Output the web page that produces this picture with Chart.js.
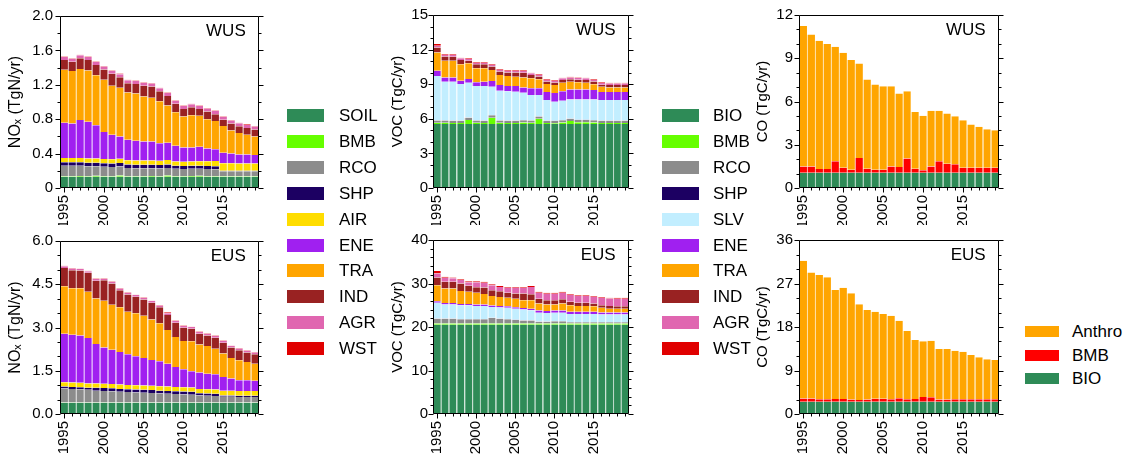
<!DOCTYPE html>
<html>
<head>
<meta charset="utf-8">
<script src="https://cdn.jsdelivr.net/npm/chart.js@4.4.0/dist/chart.umd.min.js"></script>
<style>
  body { margin: 0; background: #fff; width: 1127px; height: 463px; position: relative; overflow: hidden;
         font-family: "Liberation Sans", Arial, sans-serif; }
  canvas { position: absolute; }
  .legend { position: absolute; }
  .legend .row { position: absolute; left: 0; white-space: nowrap; font-size: 17px; color: #000; }
  .legend .box { position: absolute; left: 0; top: 0; }
  .legend .txt { position: absolute; top: 0; }
</style>
</head>
<body>
<script>
const years = [1995, 1996, 1997, 1998, 1999, 2000, 2001, 2002, 2003, 2004, 2005, 2006, 2007,
  2008, 2009, 2010, 2011, 2012, 2013, 2014, 2015, 2016, 2017, 2018, 2019];

// NOx, western US (TgN/yr)
const noxWusSoil = [0.13, 0.13, 0.13, 0.13, 0.13, 0.13, 0.13, 0.13, 0.13, 0.13, 0.13, 0.13, 0.13, 0.13, 0.13, 0.13, 0.13, 0.13, 0.13, 0.13, 0.13, 0.13, 0.13, 0.13, 0.13];
const noxWusBmb = [0.008, 0.008, 0.01, 0.008, 0.012, 0.008, 0.006, 0.015, 0.008, 0.007, 0.007, 0.009, 0.008, 0.014, 0.008, 0.006, 0.01, 0.012, 0.008, 0.008, 0.006, 0.006, 0.006, 0.006, 0.006];
const noxWusRco = [0.12, 0.12, 0.118, 0.116, 0.112, 0.11, 0.108, 0.106, 0.095, 0.094, 0.092, 0.09, 0.09, 0.088, 0.086, 0.085, 0.084, 0.083, 0.082, 0.08, 0.06, 0.06, 0.058, 0.058, 0.058];
const noxWusShp = [0.04, 0.04, 0.04, 0.04, 0.04, 0.04, 0.04, 0.04, 0.04, 0.04, 0.04, 0.04, 0.04, 0.04, 0.035, 0.035, 0.035, 0.035, 0.035, 0.035, 0.006, 0.006, 0.006, 0.006, 0.006];
const noxWusAir = [0.052, 0.052, 0.052, 0.05, 0.05, 0.05, 0.05, 0.05, 0.05, 0.05, 0.05, 0.05, 0.05, 0.055, 0.05, 0.05, 0.05, 0.05, 0.055, 0.06, 0.085, 0.085, 0.085, 0.085, 0.085];
const noxWusEne = [0.41, 0.40, 0.44, 0.426, 0.386, 0.312, 0.286, 0.259, 0.237, 0.229, 0.221, 0.221, 0.202, 0.198, 0.181, 0.164, 0.161, 0.17, 0.15, 0.137, 0.123, 0.113, 0.105, 0.105, 0.10];
const noxWusTra = [0.615, 0.61, 0.595, 0.595, 0.58, 0.61, 0.57, 0.565, 0.55, 0.55, 0.525, 0.51, 0.49, 0.435, 0.39, 0.36, 0.376, 0.36, 0.34, 0.33, 0.31, 0.27, 0.25, 0.23, 0.215];
const noxWusInd = [0.113, 0.109, 0.124, 0.124, 0.119, 0.119, 0.139, 0.124, 0.109, 0.109, 0.124, 0.129, 0.114, 0.109, 0.099, 0.089, 0.093, 0.079, 0.089, 0.079, 0.074, 0.079, 0.079, 0.079, 0.079];
const noxWusAgr = [0.035, 0.035, 0.035, 0.035, 0.035, 0.035, 0.035, 0.035, 0.035, 0.035, 0.035, 0.035, 0.035, 0.035, 0.035, 0.035, 0.035, 0.035, 0.035, 0.035, 0.035, 0.035, 0.035, 0.035, 0.035];
const noxWusWst = [0.006, 0.006, 0.006, 0.006, 0.006, 0.006, 0.006, 0.006, 0.006, 0.006, 0.006, 0.006, 0.006, 0.006, 0.006, 0.006, 0.006, 0.006, 0.006, 0.006, 0.006, 0.006, 0.006, 0.006, 0.006];

// NOx, eastern US (TgN/yr)
const noxEusSoil = [0.39, 0.39, 0.39, 0.39, 0.39, 0.39, 0.39, 0.39, 0.39, 0.39, 0.39, 0.39, 0.39, 0.39, 0.39, 0.39, 0.39, 0.39, 0.39, 0.39, 0.39, 0.39, 0.39, 0.39, 0.39];
const noxEusBmb = [0.005, 0.005, 0.005, 0.005, 0.005, 0.005, 0.005, 0.005, 0.005, 0.005, 0.005, 0.005, 0.005, 0.005, 0.005, 0.005, 0.005, 0.005, 0.005, 0.005, 0.005, 0.005, 0.005, 0.005, 0.005];
const noxEusRco = [0.49, 0.475, 0.465, 0.445, 0.415, 0.405, 0.395, 0.375, 0.365, 0.355, 0.345, 0.335, 0.315, 0.305, 0.295, 0.285, 0.275, 0.245, 0.235, 0.225, 0.205, 0.205, 0.195, 0.195, 0.195];
const noxEusShp = [0.07, 0.07, 0.07, 0.07, 0.1, 0.1, 0.1, 0.1, 0.1, 0.1, 0.1, 0.1, 0.1, 0.1, 0.1, 0.1, 0.1, 0.08, 0.08, 0.08, 0.04, 0.04, 0.04, 0.04, 0.04];
const noxEusAir = [0.15, 0.15, 0.15, 0.15, 0.15, 0.15, 0.15, 0.15, 0.15, 0.15, 0.15, 0.15, 0.15, 0.15, 0.15, 0.15, 0.15, 0.15, 0.15, 0.15, 0.17, 0.17, 0.17, 0.17, 0.17];
const noxEusEne = [1.675, 1.66, 1.64, 1.58, 1.37, 1.26, 1.19, 1.13, 1.06, 1.0, 0.95, 0.89, 0.87, 0.79, 0.69, 0.62, 0.56, 0.57, 0.54, 0.53, 0.47, 0.42, 0.37, 0.37, 0.35];
const noxEusTra = [1.65, 1.61, 1.64, 1.60, 1.58, 1.62, 1.56, 1.55, 1.48, 1.49, 1.47, 1.41, 1.32, 1.17, 1.04, 0.98, 1.04, 0.97, 0.96, 0.88, 0.82, 0.71, 0.69, 0.63, 0.59];
const noxEusInd = [0.635, 0.625, 0.615, 0.655, 0.615, 0.705, 0.735, 0.595, 0.595, 0.575, 0.565, 0.575, 0.555, 0.525, 0.495, 0.465, 0.435, 0.375, 0.365, 0.385, 0.375, 0.365, 0.355, 0.335, 0.335];
const noxEusAgr = [0.06, 0.06, 0.06, 0.06, 0.06, 0.06, 0.06, 0.06, 0.06, 0.06, 0.06, 0.06, 0.06, 0.06, 0.06, 0.06, 0.06, 0.06, 0.06, 0.06, 0.06, 0.06, 0.06, 0.06, 0.06];
const noxEusWst = [0.015, 0.015, 0.015, 0.015, 0.015, 0.015, 0.015, 0.015, 0.015, 0.015, 0.015, 0.015, 0.015, 0.03, 0.015, 0.015, 0.015, 0.015, 0.015, 0.015, 0.015, 0.015, 0.015, 0.015, 0.015];

// VOC, western US (TgC/yr)
const vocWusBio = [5.55, 5.55, 5.55, 5.55, 5.55, 5.55, 5.55, 5.55, 5.55, 5.55, 5.55, 5.55, 5.55, 5.55, 5.55, 5.55, 5.55, 5.55, 5.55, 5.55, 5.55, 5.55, 5.55, 5.55, 5.55];
const vocWusBmb = [0.1, 0.1, 0.08, 0.08, 0.35, 0.1, 0.08, 0.55, 0.1, 0.08, 0.08, 0.12, 0.1, 0.45, 0.08, 0.06, 0.12, 0.25, 0.15, 0.15, 0.12, 0.08, 0.08, 0.08, 0.08];
const vocWusRco = [0.2, 0.2, 0.2, 0.2, 0.2, 0.2, 0.2, 0.2, 0.2, 0.2, 0.2, 0.2, 0.2, 0.2, 0.2, 0.2, 0.2, 0.2, 0.2, 0.2, 0.2, 0.2, 0.2, 0.2, 0.2];
const vocWusShp = [0.02, 0.02, 0.02, 0.02, 0.02, 0.02, 0.02, 0.02, 0.02, 0.02, 0.02, 0.02, 0.02, 0.02, 0.02, 0.02, 0.02, 0.02, 0.02, 0.02, 0.02, 0.02, 0.02, 0.02, 0.02];
const vocWusSlv = [3.84, 3.35, 3.37, 3.16, 3.01, 2.97, 2.99, 2.46, 2.56, 2.53, 2.50, 2.37, 2.19, 1.84, 1.77, 1.65, 1.68, 1.66, 1.76, 1.76, 1.79, 1.77, 1.77, 1.77, 1.77];
const vocWusEne = [0.46, 0.37, 0.37, 0.29, 0.32, 0.32, 0.38, 0.50, 0.50, 0.46, 0.49, 0.46, 0.58, 0.58, 0.70, 0.75, 0.81, 0.87, 0.87, 0.87, 0.81, 0.70, 0.70, 0.70, 0.70];
const vocWusTra = [1.57, 1.45, 1.45, 1.42, 1.36, 1.22, 1.16, 0.95, 0.87, 0.87, 0.81, 0.87, 0.87, 0.78, 0.69, 0.70, 0.75, 0.67, 0.61, 0.58, 0.50, 0.46, 0.40, 0.40, 0.40];
const vocWusInd = [0.45, 0.37, 0.34, 0.37, 0.23, 0.34, 0.34, 0.31, 0.31, 0.31, 0.37, 0.40, 0.28, 0.25, 0.23, 0.22, 0.23, 0.22, 0.22, 0.23, 0.25, 0.17, 0.20, 0.20, 0.20];
const vocWusAgr = [0.15, 0.15, 0.15, 0.15, 0.15, 0.15, 0.15, 0.15, 0.15, 0.15, 0.15, 0.15, 0.15, 0.15, 0.15, 0.15, 0.15, 0.15, 0.15, 0.15, 0.15, 0.15, 0.15, 0.15, 0.15];
const vocWusWst = [0.15, 0.06, 0.06, 0.06, 0.06, 0.06, 0.06, 0.06, 0.06, 0.06, 0.06, 0.06, 0.06, 0.06, 0.06, 0.06, 0.06, 0.06, 0.06, 0.06, 0.06, 0.06, 0.06, 0.06, 0.06];

// VOC, eastern US (TgC/yr)
const vocEusBio = [20.5, 20.5, 20.5, 20.5, 20.5, 20.5, 20.5, 20.5, 20.5, 20.5, 20.5, 20.5, 20.5, 20.5, 20.5, 20.5, 20.5, 20.5, 20.5, 20.5, 20.5, 20.5, 20.5, 20.5, 20.5];
const vocEusBmb = [0.3, 0.3, 0.3, 0.3, 0.3, 0.3, 0.3, 0.3, 0.3, 0.3, 0.3, 0.3, 0.3, 0.3, 0.3, 0.3, 0.3, 0.3, 0.3, 0.3, 0.3, 0.3, 0.3, 0.3, 0.3];
const vocEusRco = [1.1, 1.1, 1.1, 1.0, 1.0, 1.0, 1.0, 1.3, 1.1, 1.0, 0.8, 0.7, 0.7, 0.4, 0.4, 0.5, 0.5, 0.3, 0.3, 0.3, 0.3, 0.3, 0.3, 0.3, 0.3];
const vocEusShp = [0.05, 0.05, 0.05, 0.05, 0.05, 0.05, 0.05, 0.05, 0.05, 0.05, 0.05, 0.05, 0.05, 0.05, 0.05, 0.05, 0.05, 0.05, 0.05, 0.05, 0.05, 0.05, 0.05, 0.05, 0.05];
const vocEusSlv = [3.65, 3.25, 3.25, 3.15, 3.15, 3.0, 3.0, 2.45, 2.55, 2.55, 2.55, 2.45, 2.3, 2.05, 1.95, 1.95, 1.95, 1.85, 1.85, 1.85, 1.85, 1.7, 1.7, 1.7, 1.7];
const vocEusEne = [0.3, 0.3, 0.3, 0.3, 0.3, 0.3, 0.3, 0.35, 0.35, 0.35, 0.35, 0.35, 0.35, 0.5, 0.5, 0.5, 0.5, 0.5, 0.5, 0.5, 0.5, 0.5, 0.5, 0.5, 0.5];
const vocEusTra = [3.7, 3.35, 3.35, 3.0, 2.8, 2.7, 2.45, 2.2, 2.05, 1.95, 1.95, 1.8, 1.95, 1.6, 1.5, 1.4, 1.6, 1.5, 1.35, 1.35, 1.25, 1.05, 0.85, 0.85, 0.85];
const vocEusInd = [1.8, 1.55, 1.55, 1.7, 1.4, 1.3, 1.5, 1.3, 1.3, 1.2, 1.2, 1.55, 1.4, 1.1, 0.95, 0.95, 1.0, 0.8, 0.75, 0.75, 0.65, 0.6, 0.65, 0.55, 0.55];
const vocEusAgr = [0.9, 0.95, 0.8, 0.8, 0.8, 1.15, 1.1, 1.15, 1.0, 1.1, 1.3, 1.3, 1.65, 1.4, 1.5, 1.5, 1.5, 1.55, 1.5, 1.5, 1.55, 1.7, 1.7, 1.75, 1.75];
const vocEusWst = [0.6, 0.2, 0.2, 0.2, 0.2, 0.2, 0.2, 0.2, 0.2, 0.2, 0.2, 0.2, 0.2, 0.2, 0.2, 0.2, 0.2, 0.2, 0.2, 0.2, 0.2, 0.2, 0.2, 0.2, 0.2];

// CO, western US (TgC/yr)
const coWusBio = [1.05, 1.05, 1.05, 1.05, 1.05, 1.05, 1.05, 1.05, 1.05, 1.05, 1.05, 1.05, 1.05, 1.05, 1.05, 1.05, 1.05, 1.05, 1.05, 1.05, 1.05, 1.05, 1.05, 1.05, 1.05];
const coWusBmb = [0.45, 0.45, 0.27, 0.27, 0.8, 0.36, 0.22, 1.03, 0.29, 0.22, 0.22, 0.45, 0.41, 0.99, 0.29, 0.18, 0.45, 0.8, 0.64, 0.6, 0.36, 0.36, 0.36, 0.36, 0.36];
const coWusAnthro = [9.73, 9.15, 8.89, 8.66, 7.94, 7.97, 7.6, 6.55, 6.18, 5.91, 5.79, 5.56, 5.09, 4.67, 3.94, 3.79, 3.85, 3.5, 3.47, 3.33, 3.29, 2.99, 2.83, 2.66, 2.59];

// CO, eastern US (TgC/yr)
const coEusBio = [2.55, 2.55, 2.55, 2.55, 2.55, 2.55, 2.55, 2.55, 2.55, 2.55, 2.55, 2.55, 2.55, 2.55, 2.55, 2.55, 2.55, 2.55, 2.55, 2.55, 2.55, 2.55, 2.55, 2.55, 2.55];
const coEusBmb = [0.65, 0.65, 0.5, 0.5, 0.55, 0.55, 0.45, 0.35, 0.45, 0.6, 0.6, 0.5, 0.7, 0.5, 0.55, 0.95, 0.9, 0.45, 0.45, 0.5, 0.5, 0.5, 0.5, 0.5, 0.5];
const coEusAnthro = [28.5, 26.1, 25.71, 25.23, 22.56, 23.04, 21.97, 19.79, 18.52, 18.02, 17.54, 17.29, 16.06, 14.12, 12.21, 11.53, 11.72, 10.45, 10.45, 10.05, 9.85, 9.15, 8.67, 8.26, 8.12];

const col = {
  soil: "#2e8b57", bmb: "#66ff00", rco: "#8c8c8c", shp: "#1c0062", air: "#ffdd00", slv: "#c2eeff",
  ene: "#a020f0", tra: "#ffa500", ind: "#992222", agr: "#e066b0", wst: "#e00000", coBmb: "#ff0000"
};

Chart.defaults.font.family = '"Liberation Sans", Arial, sans-serif';
Chart.defaults.color = "#000";

// light tint of a colour for the thin separators between bars
function tint(hex, f) {
  const n = parseInt(hex.slice(1), 16);
  const c = [n >> 16, (n >> 8) & 255, n & 255].map(v => Math.round(v + (255 - v) * f));
  return "rgb(" + c.join(",") + ")";
}

// box, minor/major ticks on left, right and bottom, region name
const frame = {
  id: "frame",
  afterDraw(chart, args, o) {
    const { ctx, chartArea: a, scales: { x, y } } = chart;
    const L = Math.round(a.left) + 0.5, R = Math.round(a.right) - 0.5;
    const T = Math.round(a.top) + 0.5, B = Math.round(a.bottom) - 0.5;
    ctx.save();
    ctx.strokeStyle = "#000";
    ctx.lineWidth = 1;
    ctx.beginPath();
    ctx.rect(L, T, R - L, B - T);
    const n = Math.round(y.max / o.minor), per = Math.round(o.major / o.minor);
    for (let k = 0; k <= n; k++) {
      const py = Math.round(y.getPixelForValue(k * o.minor)) + 0.5;
      const len = k % per === 0 ? 5 : 3;
      ctx.moveTo(L - len, py); ctx.lineTo(L, py);
      ctx.moveTo(R, py); ctx.lineTo(R + len, py);
    }
    years.forEach((yr, i) => {
      const px = Math.round(x.getPixelForValue(i)) + 0.5;
      ctx.moveTo(px, B); ctx.lineTo(px, B + (yr % 5 === 0 ? 5 : 3));
    });
    ctx.stroke();
    ctx.font = '17px "Liberation Sans", Arial, sans-serif';
    ctx.fillStyle = "#000";
    ctx.textAlign = "right";
    ctx.textBaseline = "top";
    ctx.fillText(o.region, a.right - 13, a.top + 7);
    ctx.restore();
  }
};

function makeChart(p) {
  const cv = document.createElement("canvas");
  cv.width = p.w; cv.height = p.h;
  cv.style.left = p.left + "px"; cv.style.top = p.top + "px";
  document.body.appendChild(cv);
  new Chart(cv, {
    type: "bar",
    data: {
      labels: years,
      datasets: p.series.map(s => ({
        label: s[0], data: s[1], backgroundColor: s[2],
        borderColor: tint(s[2], 0.65), borderWidth: { left: 1, right: 0, top: 0, bottom: 0 },
        borderSkipped: false, barPercentage: 1, categoryPercentage: 1, inflateAmount: 0
      }))
    },
    options: {
      responsive: false, animation: false, devicePixelRatio: 1,
      layout: { padding: { top: 15, right: p.padR, left: 0, bottom: 0 } },
      plugins: {
        legend: { display: false }, tooltip: { enabled: false },
        frame: { region: p.region, major: p.major, minor: p.minor }
      },
      scales: {
        x: {
          stacked: true, offset: true,
          grid: { display: false, drawTicks: false }, border: { display: false },
          ticks: { autoSkip: false, minRotation: 90, maxRotation: 90, padding: 7, font: { size: 15 },
            callback: (v, i) => (years[i] % 5 === 0 ? String(years[i]) : "") },
          afterFit: s => { s.height = p.xH; }
        },
        y: {
          stacked: true, min: 0, max: p.max,
          grid: { display: false, drawTicks: false }, border: { display: false },
          ticks: { stepSize: p.major, padding: p.tickPad, font: { size: 15 }, callback: p.fmt },
          title: { display: true, text: p.title, font: { size: p.titleSize }, padding: { top: p.titlePad, bottom: 0 } },
          afterFit: s => { s.width = p.axisW; }
        }
      }
    },
    plugins: [frame]
  });
}

function makeLegend(left, top, step, boxW, boxH, textX, items) {
  const lg = document.createElement("div");
  lg.className = "legend";
  lg.style.left = left + "px"; lg.style.top = top + "px";
  items.forEach((it, i) => {
    const row = document.createElement("div");
    row.className = "row";
    row.style.top = (i * step) + "px";
    const box = document.createElement("span");
    box.className = "box";
    box.style.width = boxW + "px"; box.style.height = boxH + "px"; box.style.background = it[2];
    const txt = document.createElement("span");
    txt.className = "txt";
    txt.style.left = textX + "px"; txt.style.lineHeight = boxH + "px";
    txt.textContent = it[0];
    row.appendChild(box); row.appendChild(txt);
    lg.appendChild(row);
  });
  document.body.appendChild(lg);
}

const noxWusSeries = [["SOIL", noxWusSoil, col.soil], ["BMB", noxWusBmb, col.bmb], ["RCO", noxWusRco, col.rco],
  ["SHP", noxWusShp, col.shp], ["AIR", noxWusAir, col.air], ["ENE", noxWusEne, col.ene], ["TRA", noxWusTra, col.tra],
  ["IND", noxWusInd, col.ind], ["AGR", noxWusAgr, col.agr], ["WST", noxWusWst, col.wst]];
const noxEusSeries = [["SOIL", noxEusSoil, col.soil], ["BMB", noxEusBmb, col.bmb], ["RCO", noxEusRco, col.rco],
  ["SHP", noxEusShp, col.shp], ["AIR", noxEusAir, col.air], ["ENE", noxEusEne, col.ene], ["TRA", noxEusTra, col.tra],
  ["IND", noxEusInd, col.ind], ["AGR", noxEusAgr, col.agr], ["WST", noxEusWst, col.wst]];
const vocWusSeries = [["BIO", vocWusBio, col.soil], ["BMB", vocWusBmb, col.bmb], ["RCO", vocWusRco, col.rco],
  ["SHP", vocWusShp, col.shp], ["SLV", vocWusSlv, col.slv], ["ENE", vocWusEne, col.ene], ["TRA", vocWusTra, col.tra],
  ["IND", vocWusInd, col.ind], ["AGR", vocWusAgr, col.agr], ["WST", vocWusWst, col.wst]];
const vocEusSeries = [["BIO", vocEusBio, col.soil], ["BMB", vocEusBmb, col.bmb], ["RCO", vocEusRco, col.rco],
  ["SHP", vocEusShp, col.shp], ["SLV", vocEusSlv, col.slv], ["ENE", vocEusEne, col.ene], ["TRA", vocEusTra, col.tra],
  ["IND", vocEusInd, col.ind], ["AGR", vocEusAgr, col.agr], ["WST", vocEusWst, col.wst]];
const coWusSeries = [["BIO", coWusBio, col.soil], ["BMB", coWusBmb, col.coBmb], ["Anthro", coWusAnthro, col.tra]];
const coEusSeries = [["BIO", coEusBio, col.soil], ["BMB", coEusBmb, col.coBmb], ["Anthro", coEusAnthro, col.tra]];

const noxTitle = "NO\u2093 (TgN/yr)";
makeChart({ left: 0, top: 0, w: 280, h: 225, padR: 13, axisW: 60, xH: 37, series: noxWusSeries, region: "WUS",
  max: 2.0, major: 0.4, minor: 0.2, tickPad: 7, fmt: v => (v === 0 ? "0" : v.toFixed(1)),
  title: noxTitle, titleSize: 16, titlePad: 6 });
makeChart({ left: 0, top: 225, w: 280, h: 238, padR: 13, axisW: 60, xH: 49, series: noxEusSeries, region: "EUS",
  max: 6.0, major: 1.5, minor: 0.5, tickPad: 7, fmt: v => v.toFixed(1),
  title: noxTitle, titleSize: 16, titlePad: 6 });
makeChart({ left: 370, top: 0, w: 280, h: 225, padR: 11, axisW: 63, xH: 37, series: vocWusSeries, region: "WUS",
  max: 15, major: 3, minor: 1, tickPad: 5, fmt: v => String(v),
  title: "VOC (TgC/yr)", titleSize: 15, titlePad: 19 });
makeChart({ left: 370, top: 225, w: 280, h: 238, padR: 11, axisW: 63, xH: 49, series: vocEusSeries, region: "EUS",
  max: 40, major: 10, minor: 2, tickPad: 5, fmt: v => String(v),
  title: "VOC (TgC/yr)", titleSize: 15, titlePad: 19 });
makeChart({ left: 750, top: 0, w: 270, h: 225, padR: 15, axisW: 49, xH: 37, series: coWusSeries, region: "WUS",
  max: 12, major: 3, minor: 1, tickPad: 6, fmt: v => String(v),
  title: "CO (TgC/yr)", titleSize: 15, titlePad: 4 });
makeChart({ left: 750, top: 225, w: 270, h: 238, padR: 15, axisW: 49, xH: 49, series: coEusSeries, region: "EUS",
  max: 36, major: 9, minor: 3, tickPad: 6, fmt: v => String(v),
  title: "CO (TgC/yr)", titleSize: 15, titlePad: 4 });

makeLegend(287, 109, 25.9, 37, 13, 52, noxWusSeries);
makeLegend(662, 109, 25.9, 37, 13, 51, vocWusSeries);
makeLegend(1025, 326, 23.5, 34, 11, 47, coWusSeries.slice().reverse());
</script>
</body>
</html>
